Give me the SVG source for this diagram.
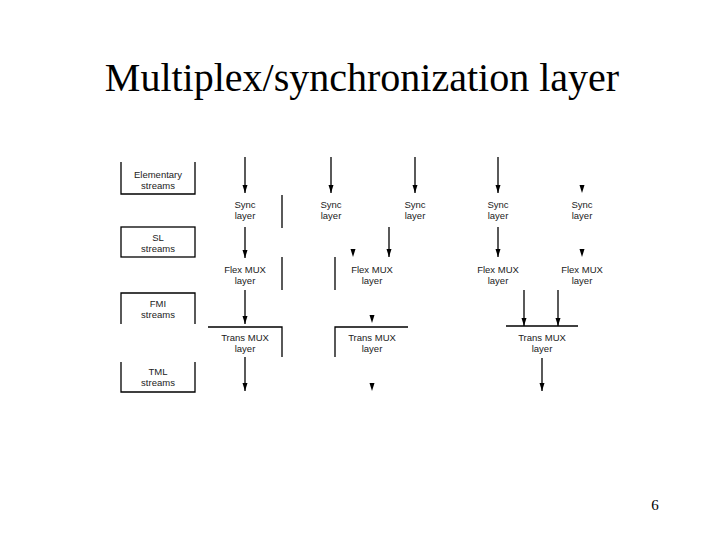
<svg xmlns="http://www.w3.org/2000/svg" xmlns:xlink="http://www.w3.org/1999/xlink" width="720" height="540" viewBox="0 0 720 540">
<style>
.t{font-family:"Liberation Sans",Arial,sans-serif;font-size:9.5px;fill:#222;text-anchor:middle}
.title{font-family:"Liberation Serif","Times New Roman",serif;font-size:40px;fill:#000;text-anchor:middle}
.pg{font-family:"Liberation Serif","Times New Roman",serif;font-size:15px;fill:#000;text-anchor:middle}
.ln{stroke:#000;stroke-width:1.3;fill:none}
.ar{stroke:#000;stroke-width:1.3;fill:none;marker-end:url(#arr)}
</style>
<defs>
<marker id="arr" viewBox="0 0 8 6" refX="8" refY="3" markerWidth="8" markerHeight="6" markerUnits="userSpaceOnUse" orient="auto">
<path d="M0,0.5 L8,3 L0,5.5 z" fill="#000"/>
</marker>
<path id="ah" d="M-2.5,-8 L2.5,-8 L0,0 z" fill="#000"/>
</defs>
<rect width="720" height="540" fill="#fff"/>
<text class="title" x="362" y="91">Multiplex/synchronization layer</text>
<text class="pg" x="655" y="510">6</text>

<g id="elementary-streams">
<path class="ln" d="M121,162 V194 H195 V162"/>
<text class="t" x="158" y="177.5">Elementary</text>
<text class="t" x="158" y="188.5">streams</text>
</g>
<g id="sl-streams">
<rect class="ln" x="121" y="227" width="74" height="30"/>
<text class="t" x="158" y="240.5">SL</text>
<text class="t" x="158" y="251.5">streams</text>
</g>
<g id="fmi-streams">
<path class="ln" d="M121,324 V293 H195 V324"/>
<text class="t" x="158" y="306.5">FMI</text>
<text class="t" x="158" y="317.5">streams</text>
</g>
<g id="tml-streams">
<path class="ln" d="M121,362 V392 H195 V362"/>
<text class="t" x="158" y="374.5">TML</text>
<text class="t" x="158" y="385.5">streams</text>
</g>

<g id="sync1"><text class="t" x="245" y="207.5">Sync</text><text class="t" x="245" y="218.5">layer</text></g>
<g id="sync2"><text class="t" x="331" y="207.5">Sync</text><text class="t" x="331" y="218.5">layer</text></g>
<g id="sync3"><text class="t" x="415" y="207.5">Sync</text><text class="t" x="415" y="218.5">layer</text></g>
<g id="sync4"><text class="t" x="498" y="207.5">Sync</text><text class="t" x="498" y="218.5">layer</text></g>
<g id="sync5"><text class="t" x="582" y="207.5">Sync</text><text class="t" x="582" y="218.5">layer</text></g>

<g id="flex1"><text class="t" x="245" y="272.5">Flex MUX</text><text class="t" x="245" y="283.5">layer</text></g>
<g id="flex2"><text class="t" x="372" y="272.5">Flex MUX</text><text class="t" x="372" y="283.5">layer</text></g>
<g id="flex3"><text class="t" x="498" y="272.5">Flex MUX</text><text class="t" x="498" y="283.5">layer</text></g>
<g id="flex4"><text class="t" x="582" y="272.5">Flex MUX</text><text class="t" x="582" y="283.5">layer</text></g>

<g id="trans1"><text class="t" x="245" y="340.5">Trans MUX</text><text class="t" x="245" y="351.5">layer</text></g>
<g id="trans2"><text class="t" x="372" y="340.5">Trans MUX</text><text class="t" x="372" y="351.5">layer</text></g>
<g id="trans3"><text class="t" x="542" y="340.5">Trans MUX</text><text class="t" x="542" y="351.5">layer</text></g>

<g id="dividers">
<path class="ln" d="M282,195 V228"/>
<path class="ln" d="M282,257 V290"/>
<path class="ln" d="M208,327 H282 V357"/>
<path class="ln" d="M335,257 V290"/>
<path class="ln" d="M408,327 H335 V357"/>
<path class="ln" d="M506,326 H578"/>
</g>

<g id="connectors">
<path class="ar" d="M245,157 V193"/>
<path class="ar" d="M245,227 V258"/>
<path class="ar" d="M245,290 V324"/>
<path class="ar" d="M245,357 V391"/>
<path class="ar" d="M331,157 V193"/>
<path class="ar" d="M415,157 V193"/>
<path class="ar" d="M389,227 V257"/>
<path class="ar" d="M498,157 V193"/>
<path class="ar" d="M498,227 V257"/>
<path class="ar" d="M524,290 V326"/>
<path class="ar" d="M558,290 V326"/>
<path class="ar" d="M542,358 V391"/>
<use xlink:href="#ah" x="582" y="193"/>
<use xlink:href="#ah" x="353" y="257"/>
<use xlink:href="#ah" x="582" y="257"/>
<use xlink:href="#ah" x="372" y="323"/>
<use xlink:href="#ah" x="372" y="391"/>
</g>
</svg>
